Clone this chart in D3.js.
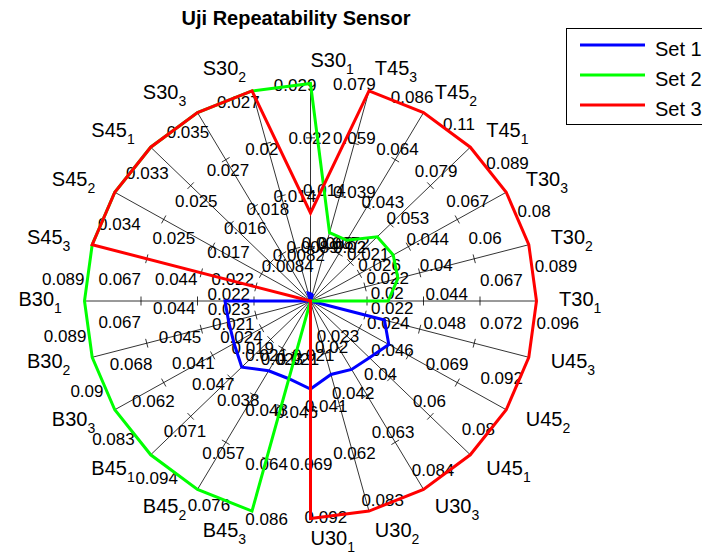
<!DOCTYPE html>
<html>
<head>
<meta charset="utf-8">
<script src="https://cdn.jsdelivr.net/npm/d3@7/dist/d3.min.js"></script>
<style>
body { margin: 0; background: #fff; }
text { font-family: "Liberation Sans", Arial, Helvetica, sans-serif; fill: #000; }
</style>
</head>
<body>
<svg id="chart" width="702" height="554"></svg>
<script>
// axes go counter-clockwise starting at 3 o'clock
var categories = ['T30_1','T30_2','T30_3','T45_1','T45_2','T45_3',
                  'S30_1','S30_2','S30_3','S45_1','S45_2','S45_3',
                  'B30_1','B30_2','B30_3','B45_1','B45_2','B45_3',
                  'U30_1','U30_2','U30_3','U45_1','U45_2','U45_3'];

// full scale of every axis (tick labels are max/4, max/2, 3max/4, max)
var axisMax = [0.096, 0.0889, 0.08, 0.0888, 0.1052, 0.0857,
               0.0788, 0.0288, 0.0272, 0.0354, 0.0328, 0.0337,
               0.0888, 0.0889, 0.0904, 0.0828, 0.0942, 0.0762,
               0.0857, 0.0921, 0.0828, 0.0841, 0.08, 0.0921];

var set1 = [0, 0, 0, 0, 0.0005, 0.0025,
            0.0027, 0.0011, 0, 0, 0, 0,
            0.0336, 0.0333, 0.0353, 0.0356, 0.0349, 0.0282,
            0.0347, 0.0322, 0.0301, 0.031, 0.032, 0.0312];

var set2 = [0.033, 0.0356, 0.0338, 0.0371, 0.0339, 0.0279,
            0.0788, 0.0288, 0.0272, 0.0354, 0.0328, 0.0337,
            0.0888, 0.0889, 0.0904, 0.0828, 0.0942, 0.0762,
            0, 0, 0, 0, 0, 0];

var set3 = [0.096, 0.0889, 0.08, 0.0888, 0.1052, 0.0857,
            0.0319, 0.0288, 0.0272, 0.0354, 0.0328, 0.0337,
            0, 0, 0, 0, 0, 0,
            0.0857, 0.0921, 0.0828, 0.0841, 0.08, 0.0921];

var seriesNames = ['Set 1', 'Set 2', 'Set 3'];
var seriesColors = ['#0000ff', '#00ff00', '#ff0000'];
var seriesData = [set1, set2, set3];

var svg = d3.select('#chart');

var cx = 310.5, cy = 301, rx = 226, ry = 217.5;

var xScale = d3.scaleLinear().domain([-1, 1]).range([cx - rx, cx + rx]);
var yScale = d3.scaleLinear().domain([-1, 1]).range([cy + ry, cy - ry]);
var angle = d3.scaleLinear().domain([0, categories.length]).range([0, 2 * Math.PI]);
var rScales = axisMax.map(m => d3.scaleLinear().domain([0, m]).range([0, 1]));
var fmt = d3.format('.2');

function pt(i, t) {
    var a = angle(i);
    return [xScale(t * Math.cos(a)), yScale(t * Math.sin(a))];
}

var grid = svg.append('g');

// spokes
categories.forEach(function(c, i) {
    var p0 = pt(i, 0), p1 = pt(i, 1);
    grid.append('line')
        .attr('x1', p0[0]).attr('y1', p0[1])
        .attr('x2', p1[0]).attr('y2', p1[1])
        .attr('stroke', '#000').attr('stroke-width', 0.8);

    // little cross ticks
    var len = Math.hypot(p1[0] - p0[0], p1[1] - p0[1]);
    var dx = (p1[0] - p0[0]) / len, dy = (p1[1] - p0[1]) / len;
    [1, 2, 3].forEach(function(k) {
        var p = pt(i, k / 4);
        grid.append('line')
            .attr('x1', p[0] - 4.5 * dy).attr('y1', p[1] + 4.5 * dx)
            .attr('x2', p[0] + 4.5 * dy).attr('y2', p[1] - 4.5 * dx)
            .attr('stroke', '#000').attr('stroke-width', 0.8);
    });
});

// tick labels, shifted clockwise off each spoke
var tickG = svg.append('g');
categories.forEach(function(c, i) {
    var a = angle(i);
    [1, 2, 3, 4].forEach(function(k) {
        var t = k / 4;
        var x = xScale(t * Math.cos(a) + 0.1 * Math.sin(a));
        var y = yScale(t * Math.sin(a) - 0.1 * Math.cos(a));
        tickG.append('text')
            .attr('x', x)
            .attr('y', y + 6)
            .attr('text-anchor', i < 12 ? 'start' : 'end')
            .attr('font-size', '17px')
            .text(fmt(rScales[i].invert(t)));
    });
});

// axis names with subscripts
var labelG = svg.append('g');
categories.forEach(function(c, i) {
    var a = angle(i);
    var p = pt(i, 1.1);
    var parts = c.split('_');
    var txt = labelG.append('text')
        .attr('x', p[0])
        .attr('y', p[1] + 5)
        .attr('text-anchor', Math.cos(a) > -1e-9 ? 'start' : 'end')
        .attr('font-size', '20px');
    txt.append('tspan').text(parts[0]);
    txt.append('tspan').attr('font-size', '14px').attr('dy', 7).text(parts[1]);
});

// the three sets
var line = d3.line()
    .x(d => xScale(d.t * Math.cos(angle(d.i))))
    .y(d => yScale(d.t * Math.sin(angle(d.i))))
    .curve(d3.curveLinearClosed);

seriesData.forEach(function(vals, s) {
    var pts = vals.map((v, i) => ({i: i, t: rScales[i](v)}));
    svg.append('path')
        .datum(pts)
        .attr('d', line)
        .attr('fill', 'none')
        .attr('stroke', seriesColors[s])
        .attr('stroke-width', 3)
        .attr('stroke-linejoin', 'miter');
});

// title
svg.append('text')
    .attr('x', 296)
    .attr('y', 25)
    .attr('text-anchor', 'middle')
    .attr('font-size', '20px')
    .attr('font-weight', 'bold')
    .text('Uji Repeatability Sensor');

// legend
var legend = svg.append('g').attr('transform', 'translate(566,28)');
legend.append('rect')
    .attr('x', 0.5).attr('y', 0.5)
    .attr('width', 150).attr('height', 96)
    .attr('fill', '#fff').attr('stroke', '#000').attr('stroke-width', 1);

seriesNames.forEach(function(name, s) {
    var y = 17 + s * 30;
    legend.append('line')
        .attr('x1', 14).attr('x2', 79)
        .attr('y1', y).attr('y2', y)
        .attr('stroke', seriesColors[s]).attr('stroke-width', 3);
    legend.append('text')
        .attr('x', 89).attr('y', y + 11)
        .attr('font-size', '20px')
        .text(name);
});
</script>
</body>
</html>
